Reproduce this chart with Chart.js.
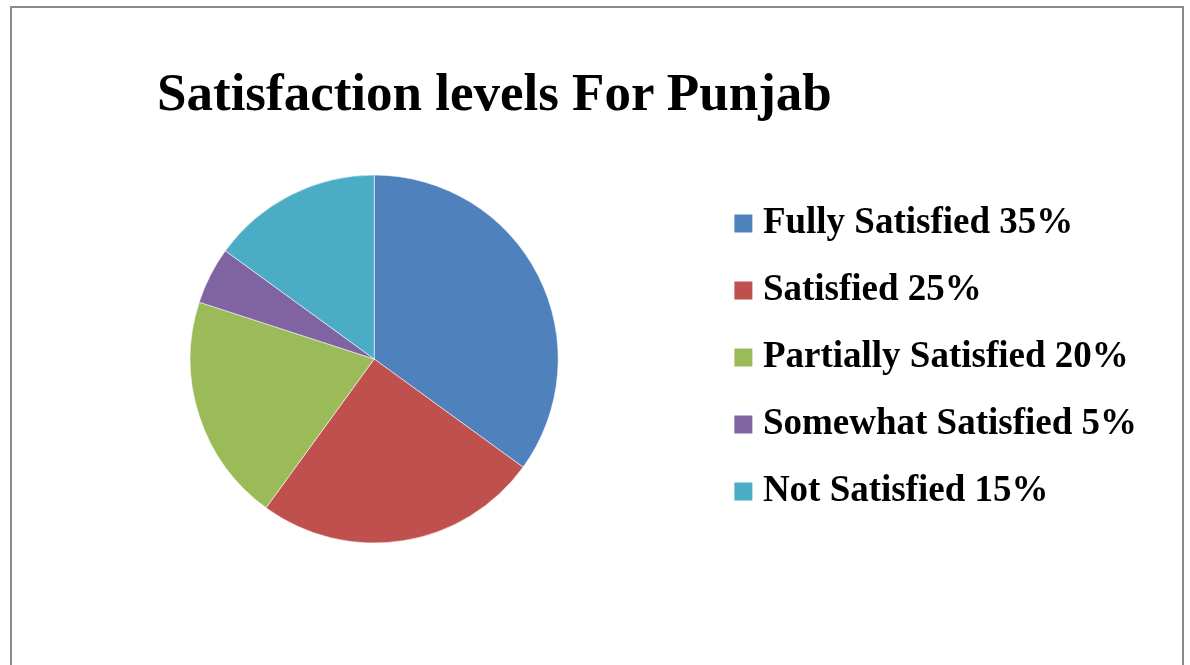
<!DOCTYPE html>
<html>
<head>
<meta charset="utf-8">
<title>Satisfaction levels For Punjab</title>
<script src="https://cdn.jsdelivr.net/npm/chart.js@4/dist/chart.umd.min.js"></script>
<style>
  html, body { margin: 0; padding: 0; background: #ffffff; overflow: hidden; }
  body { width: 1190px; height: 665px; position: relative; }
  #frame {
    position: absolute; left: 10px; top: 6px; width: 1170px; height: 700px;
    border: 2px solid #8a8a8a; box-sizing: content-box;
  }
  #heading {
    position: absolute; left: 157px; top: 66px; margin: 0;
    font-family: "Liberation Serif", "Times New Roman", serif;
    font-weight: bold; font-size: 53px; line-height: 53px; color: #000000;
    white-space: nowrap;
  }
  #pie { position: absolute; left: 0; top: 0; }
</style>
</head>
<body>
<div id="frame"></div>
<h1 id="heading">Satisfaction levels For Punjab</h1>
<canvas id="pie" width="1190" height="665"></canvas>
<script>
// Survey answers, share of respondents (%)
const categories = [
  "Fully Satisfied",
  "Satisfied",
  "Partially Satisfied",
  "Somewhat Satisfied",
  "Not Satisfied"
];
const shares = [35, 25, 20, 5, 15];
const sliceColors = ["#4F81BD", "#C0504D", "#9BBB59", "#8064A2", "#4BACC6"];

const legendLabels = categories.map((c, i) => c + " " + shares[i] + "%");

new Chart(document.getElementById("pie"), {
  type: "pie",
  data: {
    labels: legendLabels,
    datasets: [{
      data: shares,
      backgroundColor: sliceColors,
      borderColor: "rgba(255,255,255,0.55)",
      borderWidth: 1
    }]
  },
  options: {
    responsive: false,
    devicePixelRatio: 1,
    animation: false,
    radius: 184,
    layout: { padding: { left: 36, right: 43, top: 175, bottom: 122 } },
    plugins: {
      title: { display: false },
      tooltip: { enabled: false },
      legend: {
        position: "right",
        align: "start",
        labels: {
          usePointStyle: true,
          pointStyle: "rect",
          boxWidth: 2,
          boxHeight: 18,
          padding: 30,
          color: "#000000",
          font: { family: "'Liberation Serif', 'Times New Roman', serif", weight: "bold", size: 37 },
          generateLabels(chart) {
            const items = Chart.overrides.pie.plugins.legend.labels.generateLabels(chart);
            items.forEach(it => { it.lineWidth = 0; it.strokeStyle = "rgba(0,0,0,0)"; });
            return items;
          }
        }
      }
    }
  }
});
</script>
</body>
</html>
